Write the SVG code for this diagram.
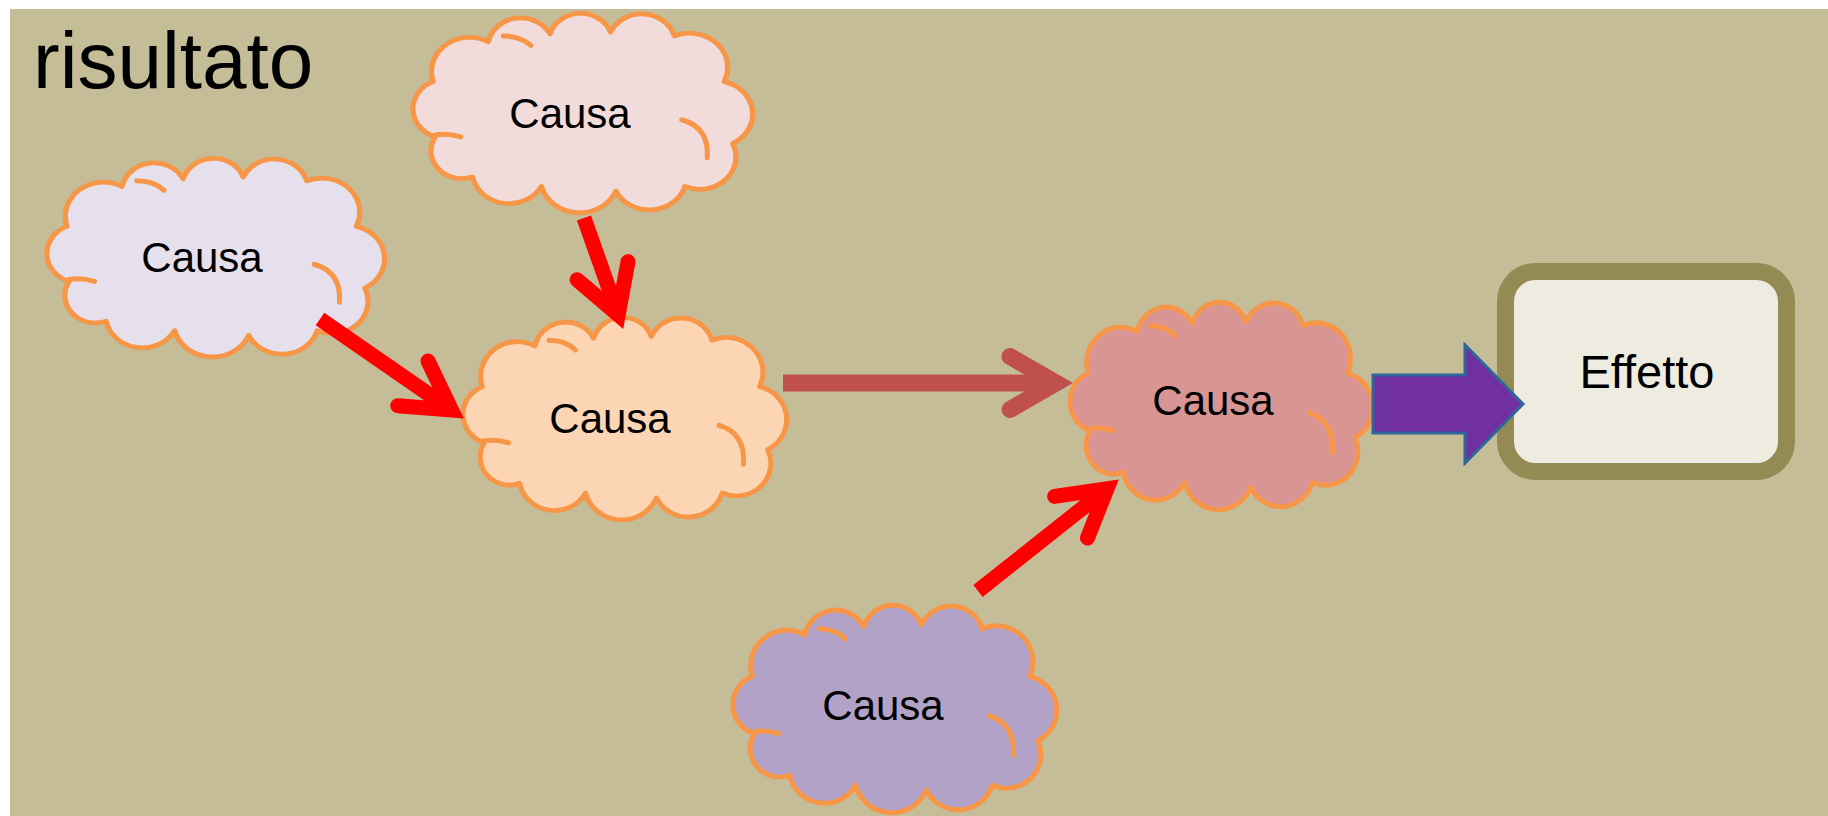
<svg xmlns="http://www.w3.org/2000/svg" xmlns:xlink="http://www.w3.org/1999/xlink" width="1828" height="816" viewBox="0 0 1828 816">
<style>
.cloud{stroke:#F79646;stroke-width:5;stroke-linejoin:round;stroke-linecap:round;vector-effect:non-scaling-stroke}
.tick{fill:none;stroke:#F79646;stroke-width:5;stroke-linecap:round;vector-effect:non-scaling-stroke}
.lbl{font-family:"Liberation Sans",Arial,sans-serif;font-size:42px;fill:#000;text-anchor:middle}
.red{fill:none;stroke:#FF0000;stroke-width:15}
.redhead{fill:none;stroke:#FF0000;stroke-width:15;stroke-linejoin:miter;stroke-linecap:round}
.brn{fill:none;stroke:#C0504D;stroke-width:17}
.brnhead{fill:none;stroke:#C0504D;stroke-width:17;stroke-linejoin:miter;stroke-linecap:round}
</style>
<defs>
<path id="cloudShape" d="M18,70 A36,36 0 0 1 70,28 A31,31 0 0 1 128,20 A30,30 0 0 1 185,18 A32,32 0 0 1 245,22 A36,36 0 0 1 292,70 A35,35 0 0 1 300,135 A34,34 0 0 1 255,180 A35,35 0 0 1 190,185 A37,37 0 0 1 120,180 A35,35 0 0 1 55,170 A29,29 0 0 1 20,128 A31,31 0 0 1 18,70 Z"/>
<g id="cloudTicks">
<path class="tick" d="M20,126 Q32,124 44,128"/>
<path class="tick" d="M84,22 Q100,22 110,32"/>
<path class="tick" d="M252,110 Q278,118 276,150"/>
</g>
</defs>
<rect x="0" y="0" width="1828" height="816" fill="#FFFFFF"/>
<rect x="10" y="9" width="1818" height="807" fill="#C4BD97"/>
<text x="33" y="88" font-family="Liberation Sans,Arial,sans-serif" font-size="80" fill="#000">risultato</text>

<g id="node-causa-top">
<g transform="translate(414,15) scale(1.0625,0.952)">
<use xlink:href="#cloudShape" class="cloud" fill="#F2DCDB"/>
<use xlink:href="#cloudTicks"/>
</g>
<text class="lbl" x="570" y="128">Causa</text>
</g>

<g id="node-causa-left">
<g transform="translate(48,160) scale(1.056,0.948)">
<use xlink:href="#cloudShape" class="cloud" fill="#E5E0EC"/>
<use xlink:href="#cloudTicks"/>
</g>
<text class="lbl" x="202" y="272">Causa</text>
</g>

<g id="node-causa-middle">
<g transform="translate(464,319) scale(1.0125,0.967)">
<use xlink:href="#cloudShape" class="cloud" fill="#FCD5B5"/>
<use xlink:href="#cloudTicks"/>
</g>
<text class="lbl" x="610" y="433">Causa</text>
</g>

<g id="node-causa-right">
<g transform="translate(1071,304) scale(0.947,0.99)">
<use xlink:href="#cloudShape" class="cloud" fill="#D99594"/>
<use xlink:href="#cloudTicks"/>
</g>
<text class="lbl" x="1213" y="415">Causa</text>
</g>

<g id="node-causa-bottom">
<g transform="translate(734,607) scale(1.0125,0.99)">
<use xlink:href="#cloudShape" class="cloud" fill="#B2A2C7"/>
<use xlink:href="#cloudTicks"/>
</g>
<text class="lbl" x="883" y="720">Causa</text>
</g>

<g id="node-effetto">
<rect x="1505.5" y="271.5" width="281" height="200" rx="30" ry="30" fill="#EEECE1" stroke="#948A54" stroke-width="17"/>
<text class="lbl" x="1647" y="388" style="font-size:47px">Effetto</text>
</g>

<g id="connectors">
<line class="red" x1="320" y1="319" x2="451.5" y2="410"/>
<polyline class="redhead" points="428,361 451.5,410 397.7,405.7"/>
<line class="red" x1="584" y1="218" x2="618.2" y2="314.8"/>
<polyline class="redhead" points="577.1,279.7 618.2,314.8 628,261.7"/>
<line class="brn" x1="783" y1="383" x2="1056" y2="383"/>
<polyline class="brnhead" points="1010,356.5 1056,383 1010,409.5"/>
<line class="red" x1="978" y1="591" x2="1107" y2="488.7"/>
<polyline class="redhead" points="1054.6,496.4 1107,488.7 1087.5,538"/>
<polygon points="1373,375 1465,375 1465,345 1523,404 1465,463 1465,433 1373,433" fill="#7030A0" stroke="#31669A" stroke-width="3" stroke-linejoin="miter"/>
</g>
</svg>
